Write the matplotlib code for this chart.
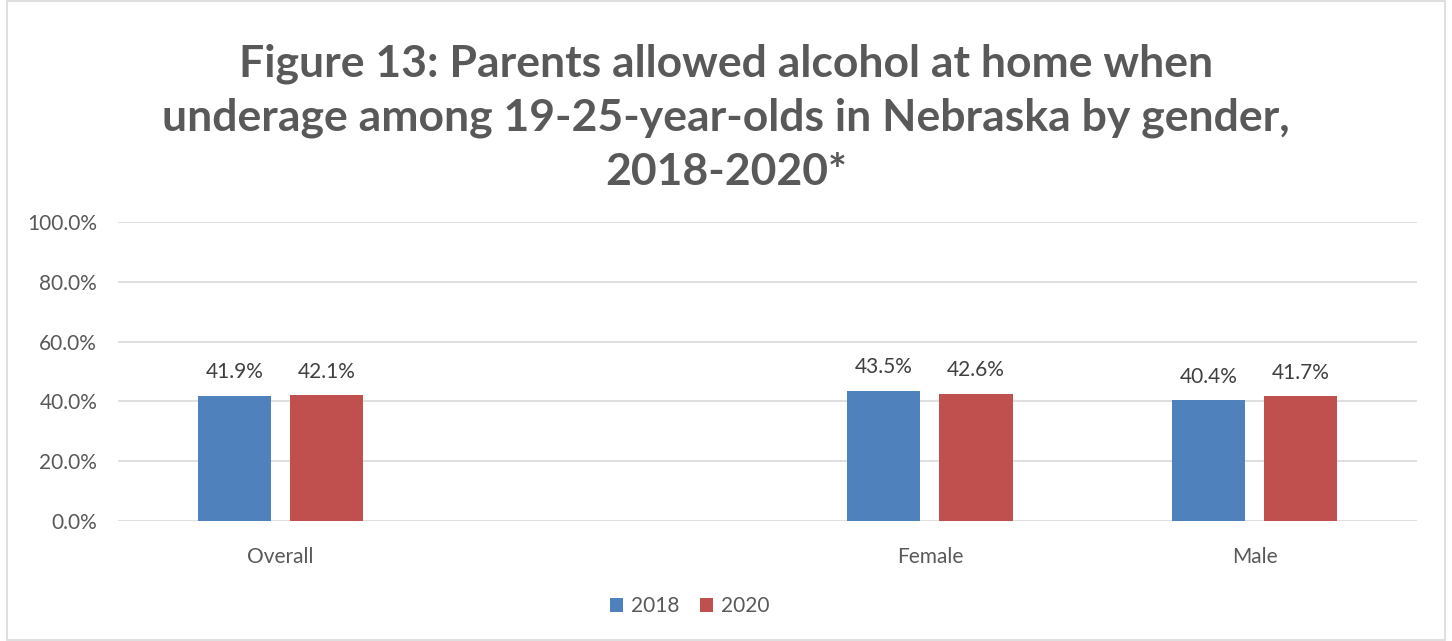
import matplotlib
matplotlib.use("Agg")
import matplotlib.pyplot as plt
import numpy as np
from matplotlib.patches import Rectangle

categories = ["Overall", "", "Female", "Male"]
series_names = ["2018", "2020"]
values_2018 = [41.9, np.nan, 43.5, 40.4]
values_2020 = [42.1, np.nan, 42.6, 41.7]
yticks = [0, 20, 40, 60, 80, 100]
colors = ["#4F81BD", "#C0504D"]
title = "Figure 13: Parents allowed alcohol at home when\nunderage among 19-25-year-olds in Nebraska by gender,\n2018-2020*"

plt.rcParams['font.family'] = ['Lato', 'DejaVu Sans']
fig = plt.figure(figsize=(14.52, 6.41), dpi=100)
fig.patches.append(Rectangle((0.005, 0.002), 0.99, 0.996, transform=fig.transFigure,
                             fill=False, edgecolor="#D9D9D9", linewidth=1.2))
ax = fig.add_axes([0.0813, 0.1872, 0.8946, 0.4665])

x = np.arange(len(categories))
w = 0.225
off = 0.142
for vals, c, o, name in [(values_2018, colors[0], -off, series_names[0]),
                         (values_2020, colors[1], off, series_names[1])]:
    ax.bar(x + o, vals, width=w, color=c, label=name, zorder=3)
    for xi, v in zip(x, vals):
        if not np.isnan(v):
            ax.text(xi + o, v + 4.5, f"{v:.1f}%", ha="center", va="bottom",
                    fontsize=15, color="#404040")

ax.set_xlim(-0.5, 3.5)
ax.set_ylim(0, 100)
ax.set_yticks(yticks)
ax.set_yticklabels([f"{t:.1f}%" for t in yticks], fontsize=15, color="#595959")
ax.set_xticks(x)
ax.set_xticklabels(categories, fontsize=15, color="#595959")
ax.tick_params(axis="x", length=0, pad=19)
ax.tick_params(axis="y", length=0, pad=15)
ax.grid(axis="y", color="#D9D9D9", linewidth=1.2, zorder=0)
for s in ax.spines.values():
    s.set_visible(False)

fig.text(0.5, 1 - 118 / 641, title, ha="center", va="center", fontsize=32,
         fontweight="bold", color="#595959", linespacing=1.42)

fig.legend(loc="center", bbox_to_anchor=(0.475, 0.054), ncol=2, frameon=False,
           fontsize=15, handlelength=0.6, handleheight=0.6, columnspacing=1.0,
           handletextpad=0.4, labelcolor="#595959")

fig.savefig("out.png", dpi=100)
